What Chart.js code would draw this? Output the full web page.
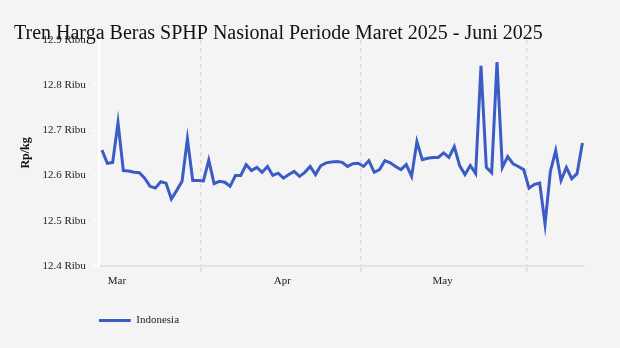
<!DOCTYPE html>
<html lang="id">
<head>
<meta charset="UTF-8">
<title>Tren Harga Beras SPHP</title>
<script src="https://cdn.jsdelivr.net/npm/chart.js@4"></script>
<style>
  html, body { margin: 0; padding: 0; background: #f4f4f4; }
  #wrap { width: 620px; height: 348px; position: relative; }
</style>
</head>
<body>
<div id="wrap"><canvas id="chart"></canvas></div>
<script>
// Harga harian beras SPHP (ribu Rp/kg), mulai pertengahan Maret 2025
const prices = [
  12.656, 12.627, 12.629, 12.717, 12.611, 12.610, 12.607, 12.606, 12.594, 12.576,
  12.572, 12.586, 12.583, 12.548, 12.567, 12.587, 12.681, 12.589, 12.589, 12.588,
  12.634, 12.582, 12.587, 12.585, 12.576, 12.600, 12.600, 12.624, 12.611, 12.618,
  12.607, 12.620, 12.600, 12.605, 12.594, 12.602, 12.609, 12.598, 12.607, 12.620,
  12.602, 12.622, 12.628, 12.630, 12.631, 12.629, 12.620, 12.626, 12.627, 12.620,
  12.633, 12.607, 12.613, 12.633, 12.628, 12.620, 12.613, 12.624, 12.598, 12.675,
  12.635, 12.638, 12.640, 12.640, 12.650, 12.640, 12.664, 12.622, 12.602, 12.622,
  12.604, 12.843, 12.618, 12.606, 12.851, 12.618, 12.642, 12.626, 12.620, 12.613,
  12.572, 12.580, 12.583, 12.492, 12.609, 12.655, 12.589, 12.618, 12.593, 12.604,
  12.672
];

// Posisi label bulan dan batas bulan (dalam hari sejak titik pertama)
const monthLabels = ['Mar', 'Apr', 'May'];
const monthLabelPos = [2.8, 33.8, 63.8];
const monthStartPos = [18.5, 48.5, 79.5];

// Tick sumbu Y
const yTicks = [12.4, 12.5, 12.6, 12.7, 12.8, 12.9];

const serif = "'Liberation Serif', 'DejaVu Serif', serif";

// gabungkan tick label dan tick garis grid
const xTicks = monthLabelPos.map((v, i) => ({ value: v, label: monthLabels[i], grid: false }))
  .concat(monthStartPos.map(v => ({ value: v, label: '', grid: true })))
  .sort((a, b) => a.value - b.value);

const gridColor = ctx => (ctx.tick && xTicks.find(t => t.value === ctx.tick.value)?.grid) ? '#dcdcdc' : 'rgba(0,0,0,0)';

const ctx = document.getElementById('chart').getContext('2d');
new Chart(ctx, {
  type: 'line',
  data: {
    datasets: [{
      label: 'Indonesia',
      data: prices.map((p, i) => ({ x: i, y: p })),
      borderColor: '#3a5cc4',
      backgroundColor: '#3a5cc4',
      borderWidth: 3,
      pointRadius: 0,
      tension: 0
    }]
  },
  options: {
    responsive: true,
    maintainAspectRatio: false,
    animation: false,
    layout: { padding: { left: 14, right: 36, top: 0, bottom: 12 } },
    scales: {
      x: {
        type: 'linear',
        min: -0.6,
        max: 90.3,
        afterBuildTicks: scale => { scale.ticks = xTicks.map(t => ({ value: t.value })); },
        afterFit: scale => { scale.height += 24; },
        ticks: {
          autoSkip: false,
          maxRotation: 0,
          padding: 3,
          color: '#222',
          font: { family: serif, size: 11 },
          callback: (value, index) => xTicks[index].label
        },
        grid: {
          color: gridColor,
          tickColor: gridColor,
          lineWidth: 1.5,
          tickLength: 6
        },
        border: { display: true, color: '#e3e3e3', width: 2, dash: [4, 4] }
      },
      y: {
        min: 12.4,
        max: 12.9,
        afterBuildTicks: scale => { scale.ticks = yTicks.map(v => ({ value: v })); },
        ticks: {
          padding: 7,
          color: '#222',
          font: { family: serif, size: 11 },
          callback: v => v.toFixed(1) + ' Ribu'
        },
        grid: {
          drawOnChartArea: false,
          color: '#ffffff',
          tickLength: 6,
          lineWidth: 1.5
        },
        border: { display: true, color: '#ffffff', width: 2 },
        title: {
          display: true,
          text: 'Rp/kg',
          color: '#111',
          font: { family: serif, size: 12, weight: 'bold' },
          padding: { top: 5, bottom: 2 }
        }
      }
    },
    plugins: {
      title: {
        display: true,
        text: 'Tren Harga Beras SPHP Nasional Periode Maret 2025 - Juni 2025',
        align: 'start',
        color: '#111',
        font: { family: serif, size: 20, weight: 'normal' },
        padding: { top: 22, bottom: -6 }
      },
      legend: {
        position: 'bottom',
        align: 'start',
        fullSize: false,
        labels: {
          usePointStyle: true,
          pointStyle: 'line',
          pointStyleWidth: 32,
          padding: 0,
          color: '#222',
          font: { family: serif, size: 11 }
        }
      },
      tooltip: { enabled: false }
    }
  }
});
</script>
</body>
</html>
